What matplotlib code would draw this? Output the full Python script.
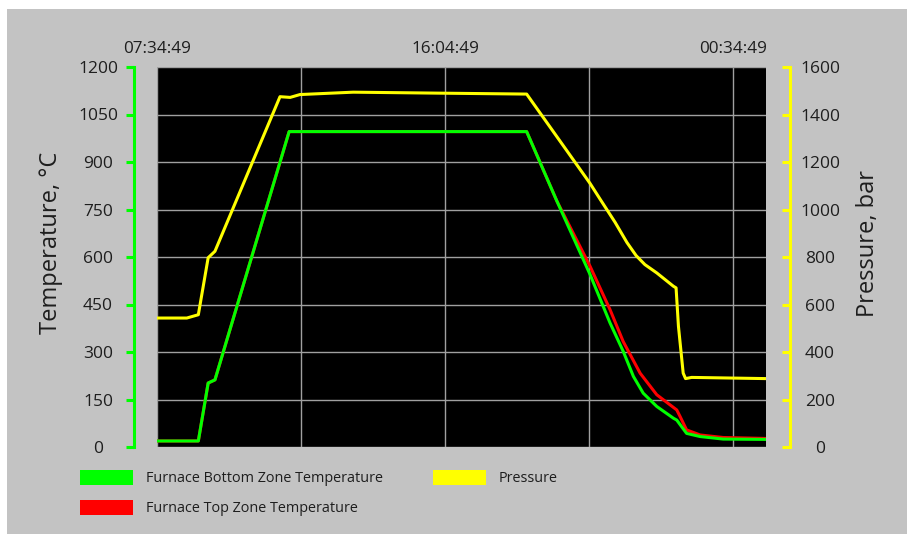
import matplotlib
matplotlib.use("Agg")
import matplotlib.pyplot as plt
from matplotlib.patches import Rectangle, Patch

plt.rcParams['font.family'] = ['Open Sans', 'DejaVu Sans']

# ---- data (time in hours after 07:34:49) ----
t_bottom = [0.00, 1.22, 1.51, 1.71, 3.90, 10.91, 11.80, 12.78, 13.37, 13.76,
            14.06, 14.35, 14.75, 15.24, 15.34, 15.63, 16.03, 16.71, 17.97]
temp_bottom = [19, 19, 202, 212, 996, 996, 777, 545, 392, 302,
               223, 170, 128, 91, 85, 43, 33, 25, 24]

t_top = [0.00, 1.22, 1.51, 1.71, 3.90, 10.91, 11.80, 12.78, 13.37, 13.76,
         14.26, 14.75, 15.34, 15.44, 15.63, 16.03, 16.71, 17.97]
temp_top = [19, 19, 202, 212, 996, 996, 777, 571, 434, 333,
            233, 165, 117, 96, 54, 38, 30, 27]

t_press = [0.00, 0.88, 1.22, 1.51, 1.71, 3.63, 3.93, 4.22, 5.79, 8.26, 10.91,
           12.78, 13.08, 13.52, 13.87, 14.14, 14.40, 14.75, 15.24, 15.32,
           15.39, 15.53, 15.60, 15.78, 17.97]
pressure = [543, 543, 557, 797, 824, 1475, 1472, 1484, 1494, 1490, 1486,
            1110, 1043, 946, 861, 806, 768, 733, 677, 670,
            508, 311, 288, 293, 288]

x_ticks = [0, 4.25, 8.5, 12.75, 17]
x_tick_labels = ['07:34:49', '', '16:04:49', '', '00:34:49']
temp_ticks = [0, 150, 300, 450, 600, 750, 900, 1050, 1200]
press_ticks = [0, 200, 400, 600, 800, 1000, 1200, 1400, 1600]
series_labels = ['Furnace Bottom Zone Temperature', 'Furnace Top Zone Temperature', 'Pressure']

# ---- styling ----
W, H = 907, 535
PX = 72 / 100  # points per pixel
GREEN, RED, YELLOW = '#00ff00', '#ff0000', '#ffff00'
BG = '#c3c3c3'
TXT = '#1e1e1e'
GRID = '#a0a0a0'

fig = plt.figure(figsize=(W / 100, H / 100), dpi=100, facecolor='white')
fig.patches.append(Rectangle((7 / W, 1 / H), 1, (533 - 9 + 1) / H,
                             transform=fig.transFigure, facecolor=BG,
                             edgecolor='none', zorder=-10))

ax = fig.add_axes([157 / W, 1 - 447 / H, 609 / W, 380 / H])
ax.set_facecolor('black')
ax.plot(t_top, temp_top, color=RED, lw=2.2, solid_joinstyle='round')
ax.plot(t_bottom, temp_bottom, color=GREEN, lw=2.2, solid_joinstyle='round')
ax.set_xlim(0, 17.974)
ax.set_ylim(0, 1200)

ax.set_xticks(x_ticks)
ax.set_xticklabels(x_tick_labels)
ax.xaxis.tick_top()
ax.tick_params(axis='x', length=0, pad=7, labelsize=12.3, labelcolor=TXT)

for s in ['top', 'right', 'bottom']:
    ax.spines[s].set_visible(False)
ax.spines['left'].set_position(('outward', 23 * PX))
ax.spines['left'].set_color(GREEN)
ax.spines['left'].set_linewidth(2.2)

ax.set_yticks(temp_ticks)
ax.tick_params(axis='y', direction='out', length=8 * PX, width=2.2, color=GREEN,
               pad=28 * PX, labelsize=12.5, labelcolor=TXT)
ax.grid(True, color=GRID, lw=1.0)
ax.set_axisbelow(True)

ax2 = ax.twinx()
ax2.plot(t_press, pressure, color=YELLOW, lw=2.2, solid_joinstyle='round')
ax2.set_ylim(0, 1600)
for s in ['top', 'left', 'bottom']:
    ax2.spines[s].set_visible(False)
ax2.spines['right'].set_position(('outward', 24 * PX))
ax2.spines['right'].set_color(YELLOW)
ax2.spines['right'].set_linewidth(2.2)
ax2.set_yticks(press_ticks)
ax2.tick_params(axis='y', direction='in', length=8 * PX, width=2.2, color=YELLOW,
                pad=30 * PX, labelsize=12.5, labelcolor=TXT)

fig.text(51 / W, 1 - 243 / H, 'Temperature, °C', rotation=90, ha='center',
         va='center', fontsize=17, color=TXT)
fig.text(868 / W, 1 - 244 / H, 'Pressure, bar', rotation=90, ha='center',
         va='center', fontsize=17, color=TXT)

handles = [Patch(facecolor=GREEN, edgecolor='none'),
           Patch(facecolor=RED, edgecolor='none'),
           Patch(facecolor=YELLOW, edgecolor='none')]
fs = 10.4
fpx = fs * 100 / 72
fig.legend(handles, series_labels, loc='upper left',
           bbox_to_anchor=(80 / W, 1 - 470 / H), ncol=2, frameon=False,
           fontsize=fs, labelcolor=TXT, borderpad=0, borderaxespad=0,
           handlelength=53 / fpx, handleheight=18 / fpx,
           handletextpad=12.7 / fpx, columnspacing=50 / fpx,
           labelspacing=0.93)

# center-align tick labels (after spine positioning, which resets ticks)
fig.canvas.draw()
for t in ax.yaxis.get_major_ticks():
    t.label1.set_horizontalalignment('center')
for t in ax2.yaxis.get_major_ticks():
    t.label2.set_horizontalalignment('center')

fig.savefig('out.png', dpi=100, facecolor=fig.get_facecolor())
